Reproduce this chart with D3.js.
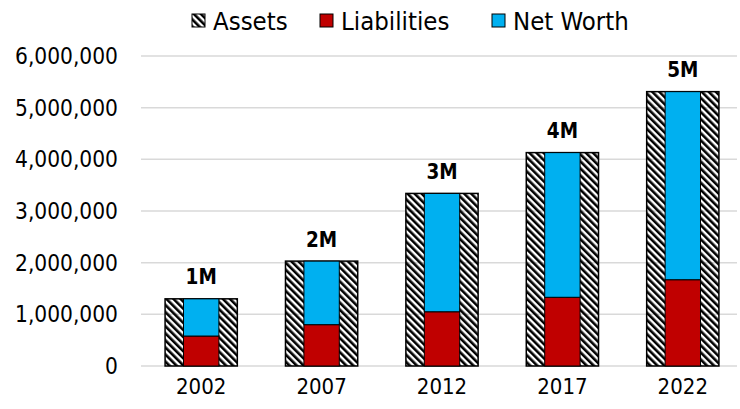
<!DOCTYPE html>
<html>
<head>
<meta charset="utf-8">
<title>Assets, Liabilities and Net Worth</title>
<script src="https://d3js.org/d3.v7.min.js"></script>
<style>
  body { margin: 0; background: #fff; }
  svg { display: block; }
</style>
</head>
<body>
<svg width="740" height="409" font-family="'DejaVu Sans Condensed', 'DejaVu Sans', sans-serif"></svg>
<script>
var years = ["2002", "2007", "2012", "2017", "2022"];
var assets = [1300000, 2030000, 3340000, 4130000, 5310000];
var liabilities = [580000, 800000, 1050000, 1330000, 1670000];
var labels = ["1M", "2M", "3M", "4M", "5M"];
var yTicks = [0, 1000000, 2000000, 3000000, 4000000, 5000000, 6000000];

var svg = d3.select("svg"),
    margin = {top: 56, right: 3, bottom: 43, left: 141},
    width = +svg.attr("width"),
    height = +svg.attr("height");

var data = years.map(function(y, i) {
  return {year: y, assets: assets[i], liab: liabilities[i], net: assets[i] - liabilities[i], label: labels[i]};
});

// hatch for assets
var defs = svg.append("defs");
defs.append("pattern")
    .attr("id", "hatch")
    .attr("patternUnits", "userSpaceOnUse")
    .attr("width", 5)
    .attr("height", 5)
    .attr("patternTransform", "rotate(-45)")
  .append("rect")
    .attr("width", 2.6)
    .attr("height", 5)
    .attr("fill", "#000");

var x = d3.scaleBand()
    .domain(years)
    .range([margin.left, 743])
    .paddingInner(0.4)
    .paddingOuter(0.2);

var y = d3.scaleLinear()
    .domain([0, 6000000])
    .range([height - margin.bottom, margin.top]);

// grid
svg.append("g")
  .selectAll("line")
  .data(yTicks)
  .enter().append("line")
    .attr("x1", margin.left)
    .attr("x2", width - margin.right)
    .attr("y1", function(d) { return y(d); })
    .attr("y2", function(d) { return y(d); })
    .attr("stroke", "#d9d9d9")
    .attr("stroke-width", 1.5);

// y axis labels
var fmt = d3.format(",");
svg.append("g")
  .selectAll("text")
  .data(yTicks)
  .enter().append("text")
    .attr("x", 118)
    .attr("y", function(d) { return y(d); })
    .attr("dy", "0.35em")
    .attr("text-anchor", "end")
    .attr("font-size", 22.5)
    .attr("fill", "#000")
    .text(function(d) { return fmt(d); });

// x axis labels
svg.append("g")
  .selectAll("text")
  .data(years)
  .enter().append("text")
    .attr("x", function(d) { return x(d) + x.bandwidth() / 2; })
    .attr("y", 386)
    .attr("dy", "0.35em")
    .attr("text-anchor", "middle")
    .attr("font-size", 22)
    .attr("fill", "#000")
    .text(function(d) { return d; });

var bars = svg.append("g");

// assets (wide hatched)
bars.selectAll("rect.assets")
  .data(data)
  .enter().append("rect")
    .attr("class", "assets")
    .attr("x", function(d) { return x(d.year); })
    .attr("width", x.bandwidth())
    .attr("y", function(d) { return y(d.assets); })
    .attr("height", function(d) { return y(0) - y(d.assets); })
    .attr("fill", "url(#hatch)")
    .attr("stroke", "#000")
    .attr("stroke-width", 1.5);

var inner = x.bandwidth() * 0.49;

// liabilities
bars.selectAll("rect.liab")
  .data(data)
  .enter().append("rect")
    .attr("class", "liab")
    .attr("x", function(d) { return x(d.year) + (x.bandwidth() - inner) / 2; })
    .attr("width", inner)
    .attr("y", function(d) { return y(d.liab); })
    .attr("height", function(d) { return y(0) - y(d.liab); })
    .attr("fill", "#c00000")
    .attr("stroke", "#000")
    .attr("stroke-width", 1);

// net worth stacked on liabilities
bars.selectAll("rect.net")
  .data(data)
  .enter().append("rect")
    .attr("class", "net")
    .attr("x", function(d) { return x(d.year) + (x.bandwidth() - inner) / 2; })
    .attr("width", inner)
    .attr("y", function(d) { return y(d.liab + d.net); })
    .attr("height", function(d) { return y(d.liab) - y(d.liab + d.net); })
    .attr("fill", "#00b0f0")
    .attr("stroke", "#000")
    .attr("stroke-width", 1);

// value labels
svg.append("g")
  .selectAll("text")
  .data(data)
  .enter().append("text")
    .attr("x", function(d) { return x(d.year) + x.bandwidth() / 2; })
    .attr("y", function(d) { return y(d.assets) - 14.5; })
    .attr("text-anchor", "middle")
    .attr("font-size", 20.5)
    .attr("font-weight", "bold")
    .attr("fill", "#000")
    .text(function(d) { return d.label; });

// legend
var legendItems = [
  {name: "Assets", fill: "url(#hatch)", x: 192},
  {name: "Liabilities", fill: "#c00000", x: 320},
  {name: "Net Worth", fill: "#00b0f0", x: 492}
];
var legend = svg.append("g")
  .selectAll("g")
  .data(legendItems)
  .enter().append("g")
    .attr("transform", function(d) { return "translate(" + d.x + ",21)"; });

legend.append("rect")
    .attr("x", 0)
    .attr("y", -7)
    .attr("width", 13)
    .attr("height", 13)
    .attr("fill", function(d) { return d.fill; })
    .attr("stroke", "#000")
    .attr("stroke-width", 1);

legend.append("text")
    .attr("x", 21)
    .attr("y", 0)
    .attr("dy", "0.35em")
    .attr("font-size", 25.5)
    .attr("fill", "#000")
    .text(function(d) { return d.name; });
</script>
</body>
</html>
